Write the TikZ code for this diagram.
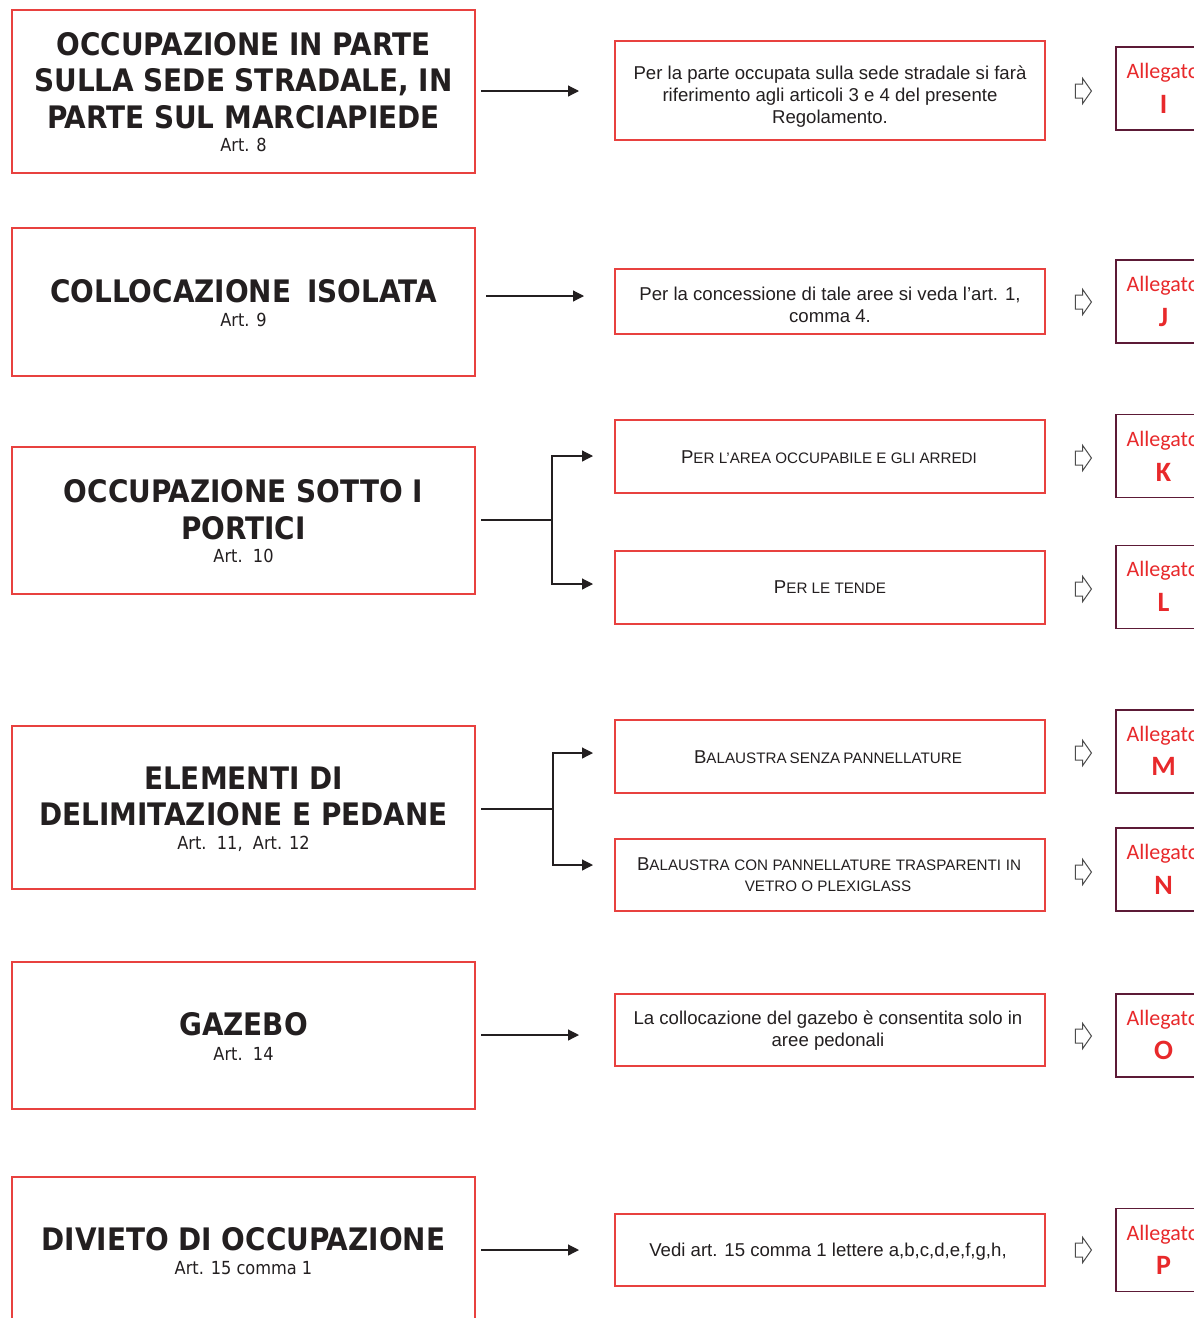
\documentclass[tikz,border=0pt]{standalone}
\usepackage{fontspec}
\setmainfont{Liberation Sans}
\newfontfamily\headfont{DejaVu Sans Condensed}
\newfontfamily\calfont{Carlito}
\usetikzlibrary{arrows.meta,shapes.arrows}
\definecolor{boxred}{HTML}{E8413F}
\definecolor{allred}{HTML}{E8292B}
\definecolor{plum}{HTML}{5C1A36}
\definecolor{ink}{HTML}{231F20}
\newcommand\smc[1]{{\fontsize{15.2}{18}\selectfont #1}}
\tikzset{
  lbox/.style={draw=boxred, line width=1.3pt, minimum width=463pt, inner sep=0},
  mbox/.style={draw=boxred, line width=1.3pt, minimum width=430pt, inner sep=0},
  abox/.style={draw=plum, line width=1.3pt, minimum width=94pt, inner sep=0},
  head/.style={font=\headfont\bfseries\fontsize{31}{36}\selectfont, text=ink, inner sep=0, anchor=base},
  artt/.style={font=\headfont\fontsize{18}{22}\selectfont, text=ink, inner sep=0, anchor=base},
  mtext/.style={font=\fontsize{18.6}{22}\selectfont, text=ink, inner sep=0, anchor=base},
  conn/.style={-{Triangle[length=11pt,width=11pt]}, line width=1.2pt, draw=ink},
  hollow/.style={shape=single arrow, draw=black!70, fill=white, line width=1pt,
    minimum height=16pt, inner xsep=0pt, inner ysep=6.5pt,
    single arrow head extend=5.5pt, single arrow tip angle=110},
  alab/.style={font=\calfont\fontsize{22}{24}\selectfont, text=allred, inner sep=0, anchor=base},
  alet/.style={font=\calfont\bfseries\fontsize{28}{30}\selectfont, text=allred, inner sep=0, anchor=base},
}
\begin{document}
\begin{tikzpicture}[x=1pt,y=-1pt]
\useasboundingbox (0,0) rectangle (1194,1318);
\fill[white] (0,0) rectangle (1194,1318);
\clip (0,0) rectangle (1194,1318);

% ---------- left column: categories ----------
\node[lbox, minimum height=163pt] (L1) at (243.5,91.5) {};
\node[head] (h1a) at (243.5,55) {OCCUPAZIONE IN PARTE};
\node[head] (h1b) at (243.5,91) {SULLA SEDE STRADALE, IN};
\node[head] (h1c) at (243.5,128) {PARTE SUL MARCIAPIEDE};
\node[artt] (r1) at (243.5,151.5) {Art. 8};

\node[lbox, minimum height=148pt] (L2) at (243.5,302) {};
\node[head] (h2a) at (243.5,302) {COLLOCAZIONE\hspace{16pt}ISOLATA};
\node[artt] (r2) at (243.5,326.5) {Art. 9};

\node[lbox, minimum height=147pt] (L3) at (243.5,520.5) {};
\node[head] (h3a) at (243.5,502) {OCCUPAZIONE SOTTO I};
\node[head] (h3b) at (243.5,539) {PORTICI};
\node[artt] (r3) at (243.5,562.5) {Art.\ \ 10};

\node[lbox, minimum height=163pt] (L4) at (243.5,807.5) {};
\node[head] (h4a) at (243.5,789) {ELEMENTI DI};
\node[head] (h4b) at (243.5,825) {DELIMITAZIONE E PEDANE};
\node[artt] (r4) at (243.5,849.5) {Art.\ \ 11,\ \ Art. 12};

\node[lbox, minimum height=147pt] (L5) at (243.5,1035.5) {};
\node[head] (h5a) at (243.5,1035) {GAZEBO};
\node[artt] (r5) at (243.5,1060.5) {Art.\ \ 14};

\node[lbox, minimum height=147pt] (L6) at (243.5,1250.5) {};
\node[head] (h6a) at (243.5,1250) {DIVIETO DI OCCUPAZIONE};
\node[artt] (r6) at (243.5,1274.5) {Art. 15 comma 1};

% ---------- middle column: descriptions ----------
\node[mbox, minimum height=99pt] (M1) at (830,90.5) {};
\node[mtext] (t1a) at (830,79) {Per la parte occupata sulla sede stradale si farà};
\node[mtext] (t1b) at (830,101) {riferimento agli articoli 3 e 4 del presente};
\node[mtext] (t1c) at (830,123) {Regolamento.};

\node[mbox, minimum height=65pt] (M2) at (830,301.5) {};
\node[mtext] (t2a) at (830,300) {Per la concessione di tale aree si veda l’art. 1,};
\node[mtext] (t2b) at (830,322) {comma 4.};

\node[mbox, minimum height=73pt] (M3) at (830,456.5) {};
\node[mtext] (t3) at (829,463) {P\smc{ER L’AREA OCCUPABILE E GLI ARREDI}};

\node[mbox, minimum height=73pt] (M4) at (830,587.5) {};
\node[mtext] (t4) at (830,593) {P\smc{ER LE TENDE}};

\node[mbox, minimum height=73pt] (M5) at (830,756.5) {};
\node[mtext] (t5) at (828,763) {\makebox[268pt][s]{B\smc{ALAUSTRA SENZA PANNELLATURE}}};

\node[mbox, minimum height=72pt] (M6) at (830,875) {};
\node[mtext] (t6a) at (829,870) {\makebox[384pt][s]{B\smc{ALAUSTRA CON PANNELLATURE TRASPARENTI IN}}};
\node[mtext] (t6b) at (828,891) {\smc{VETRO O PLEXIGLASS}};

\node[mbox, minimum height=72pt] (M7) at (830,1030) {};
\node[mtext] (t7a) at (828,1024) {La collocazione del gazebo è consentita solo in};
\node[mtext] (t7b) at (828,1046) {aree pedonali};

\node[mbox, minimum height=72pt] (M8) at (830,1250) {};
\node[mtext] (t8) at (828,1256) {Vedi art. 15 comma 1 lettere a,b,c,d,e,f,g,h,};

% ---------- hollow pointers ----------
\foreach \yy [count=\i] in {91,302,458,589,753,872,1036,1250}
  \node[hollow] (p\i) at (1081,\yy) {};

% ---------- right column: annexes ----------
\foreach \yy/\la/\lb/\ch [count=\i] in
  {88.5/78/113/I, 301.5/291/326/J, 456/446/481/K, 587/576/611/L,
   751.5/741/775/M, 869.5/859/894/N, 1035.5/1025/1059/O, 1250/1240/1274/P}
{
  \node[abox, minimum height=83pt] (A\i) at (1163,\yy) {};
  \node[alab] (al\i) at (1163,\la) {Allegato};
  \node[alet] (ac\i) at (1163.5,\lb) {\ch};
}

% ---------- connectors ----------
\coordinate (s1) at (481,91);   \coordinate (e1) at (579,91);
\coordinate (s2) at (486,296);  \coordinate (e2) at (584,296);
\coordinate (s3) at (481,520);  \coordinate (k3) at (552,520);
\coordinate (e3a) at (593,456); \coordinate (e3b) at (593,584);
\coordinate (s4) at (481,809);  \coordinate (k4) at (553,809);
\coordinate (e4a) at (593,753); \coordinate (e4b) at (593,865);
\coordinate (s5) at (481,1035); \coordinate (e5) at (579,1035);
\coordinate (s6) at (481,1250); \coordinate (e6) at (579,1250);

\draw[conn] (s1) -- (e1);
\draw[conn] (s2) -- (e2);
\draw[line width=1.2pt, draw=ink] (s3) -- (k3);
\draw[conn] (k3) |- (e3a);
\draw[conn] (k3) |- (e3b);
\draw[line width=1.2pt, draw=ink] (s4) -- (k4);
\draw[conn] (k4) |- (e4a);
\draw[conn] (k4) |- (e4b);
\draw[conn] (s5) -- (e5);
\draw[conn] (s6) -- (e6);
\end{tikzpicture}
\end{document}
